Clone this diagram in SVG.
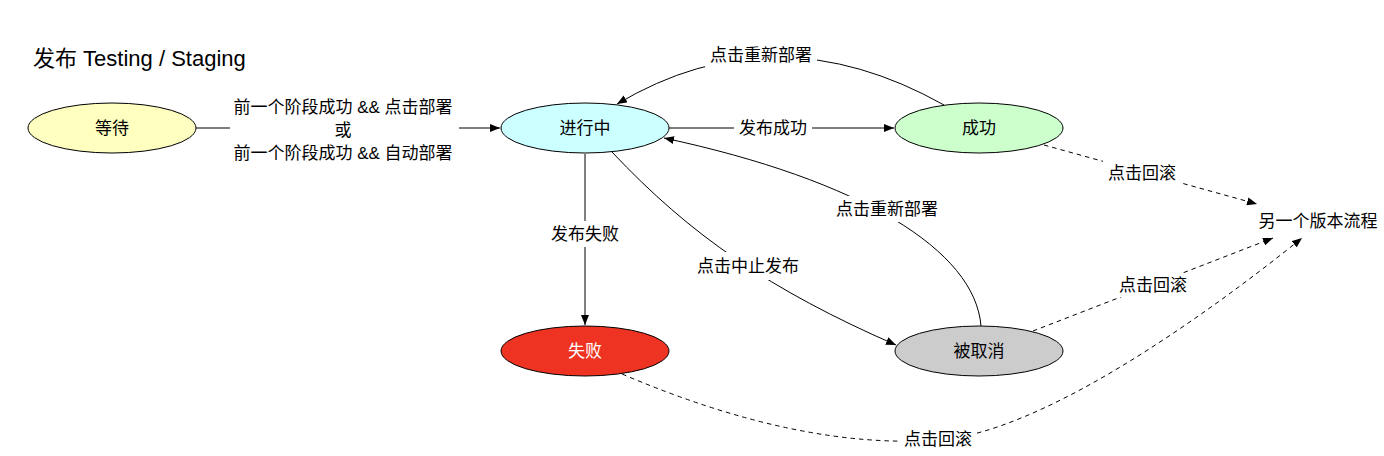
<svg xmlns="http://www.w3.org/2000/svg" width="1384" height="456" viewBox="0 0 1384 456">
<style>
  text { font-family: "Liberation Sans", "Noto Sans CJK SC", sans-serif; font-size: 17px; fill: #000; text-anchor: middle; }
  .title { font-size: 22px; text-anchor: start; }
  .node { stroke: #000; stroke-width: 1; }
  .edge { fill: none; stroke: #000; stroke-width: 1; }
  .dash { stroke-dasharray: 4.5 4; }
  .bg { fill: #fff; }
</style>
<defs>
  <marker id="arrow" markerWidth="11" markerHeight="8" refX="10" refY="4" orient="auto" markerUnits="userSpaceOnUse">
    <path d="M0,0 L10,4 L0,8 Z" fill="#000"/>
  </marker>
</defs>
<rect width="1384" height="456" fill="#fff"/>
<text class="title" x="33" y="66">发布 Testing / Staging</text>

<g id="connectors">
  <g id="e-wait-running">
    <path class="edge" d="M196,128 L500,128" marker-end="url(#arrow)"/>
    <rect class="bg" x="230" y="96" width="229" height="66"/>
    <text x="343" y="113">前一个阶段成功 &amp;&amp; 点击部署</text>
    <text x="343" y="136">或</text>
    <text x="343" y="159">前一个阶段成功 &amp;&amp; 自动部署</text>
  </g>
  <g id="e-running-success">
    <path class="edge" d="M669,128 L894,128" marker-end="url(#arrow)"/>
    <rect class="bg" x="734" y="117" width="78" height="22"/>
    <text x="773" y="134">发布成功</text>
  </g>
  <g id="e-success-running">
    <path class="edge" d="M944,105 Q775,10 617,104" marker-end="url(#arrow)"/>
    <rect class="bg" x="705" y="43" width="112" height="24"/>
    <text x="761" y="61">点击重新部署</text>
  </g>
  <g id="e-cancel-running">
    <path class="edge" d="M981,326 C975,250 860,180 664,138" marker-end="url(#arrow)"/>
    <rect class="bg" x="831" y="196" width="112" height="26"/>
    <text x="887" y="215">点击重新部署</text>
  </g>
  <g id="e-running-fail">
    <path class="edge" d="M585,154 L585,325" marker-end="url(#arrow)"/>
    <rect class="bg" x="546" y="221" width="78" height="26"/>
    <text x="585" y="240">发布失败</text>
  </g>
  <g id="e-running-cancel">
    <path class="edge" d="M612,152 C690,235 770,290 896,345" marker-end="url(#arrow)"/>
    <rect class="bg" x="692" y="252" width="112" height="28"/>
    <text x="748" y="272">点击中止发布</text>
  </g>
  <g id="e-success-other">
    <path class="edge dash" d="M1044,145 L1257,204" marker-end="url(#arrow)"/>
    <rect class="bg" x="1103" y="161" width="78" height="24"/>
    <text x="1142" y="179">点击回滚</text>
  </g>
  <g id="e-cancel-other">
    <path class="edge dash" d="M1033,331 L1273,238" marker-end="url(#arrow)"/>
    <rect class="bg" x="1114" y="273" width="78" height="24"/>
    <text x="1153" y="291">点击回滚</text>
  </g>
  <g id="e-fail-other">
    <path class="edge dash" d="M622,374 Q800,450 938,440 C1040,433 1200,320 1302,238" marker-end="url(#arrow)"/>
    <rect class="bg" x="899" y="427" width="78" height="24"/>
    <text x="938" y="445">点击回滚</text>
  </g>
</g>

<g id="node-wait">
  <ellipse class="node" cx="112" cy="128" rx="84" ry="25" fill="#ffffc0"/>
  <text x="112" y="134">等待</text>
</g>
<g id="node-running">
  <ellipse class="node" cx="585" cy="128" rx="84" ry="25" fill="#ccffff"/>
  <text x="585" y="134">进行中</text>
</g>
<g id="node-success">
  <ellipse class="node" cx="979" cy="128" rx="84" ry="25" fill="#ccffcc"/>
  <text x="979" y="134">成功</text>
</g>
<g id="node-fail">
  <ellipse class="node" cx="585" cy="351" rx="84" ry="25" fill="#ee3322"/>
  <text x="585" y="357" style="fill:#fff">失败</text>
</g>
<g id="node-cancel">
  <ellipse class="node" cx="979" cy="351" rx="84" ry="25" fill="#cccccc"/>
  <text x="979" y="357">被取消</text>
</g>
<g id="node-other">
  <text x="1318" y="227">另一个版本流程</text>
</g>
</svg>
